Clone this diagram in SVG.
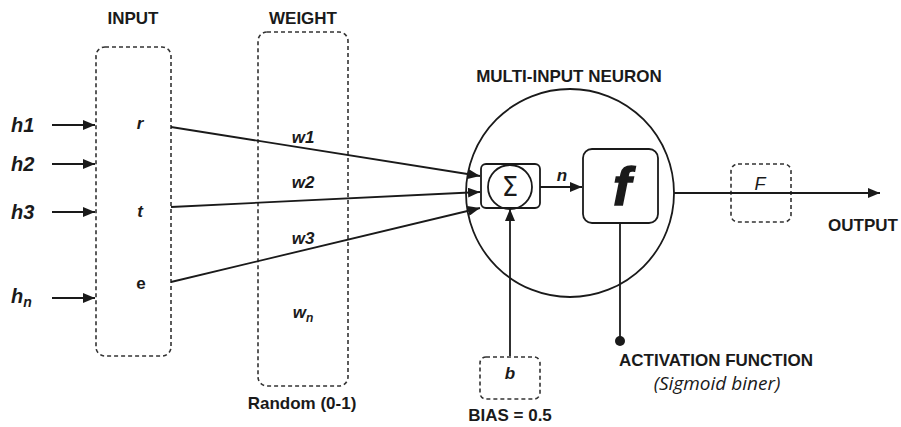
<svg xmlns="http://www.w3.org/2000/svg" width="901" height="427" viewBox="0 0 901 427">
<style>
.dash{fill:none;stroke:#333;stroke-width:1.6;stroke-dasharray:4,3}
.ln{fill:none;stroke:#1a1a1a;stroke-width:1.8}
.solid{fill:#fff;stroke:#1a1a1a;stroke-width:1.8}
.hd{font-family:"Liberation Sans",Arial,sans-serif;font-weight:bold;font-size:17px;fill:#1a1a1a}
.bi{font-family:"Liberation Sans",Arial,sans-serif;font-weight:bold;font-style:italic;font-size:17px;fill:#1a1a1a}
.hl{font-family:"Liberation Sans",Arial,sans-serif;font-weight:bold;font-style:italic;font-size:20px;fill:#1a1a1a}
.it{font-family:"Open Sans","Liberation Sans",sans-serif;font-style:italic;font-size:19px;fill:#1a1a1a}
</style>
<defs>
<marker id="arr" markerUnits="userSpaceOnUse" markerWidth="13" markerHeight="10" refX="12" refY="5" orient="auto">
<path d="M0,0 L12,5 L0,10 z" fill="#1a1a1a"/>
</marker>
</defs>
<rect width="901" height="427" fill="#fff"/>

<g id="input">
<rect class="dash" x="96" y="47" width="75" height="309" rx="9"/>
<text class="hd" x="133" y="24" text-anchor="middle">INPUT</text>
<text class="bi" x="140" y="129" text-anchor="middle">r</text>
<text class="bi" x="140" y="217" text-anchor="middle">t</text>
<text class="hd" x="141" y="289" text-anchor="middle">e</text>
</g>

<g id="weight">
<rect class="dash" x="258" y="32" width="90" height="354" rx="9"/>
<text class="hd" x="303" y="24" text-anchor="middle">WEIGHT</text>
<text class="bi" x="303" y="143" text-anchor="middle">w1</text>
<text class="bi" x="303" y="188" text-anchor="middle">w2</text>
<text class="bi" x="303" y="244" text-anchor="middle">w3</text>
<text class="bi" x="303" y="318" text-anchor="middle">w<tspan font-size="12" dy="4">n</tspan></text>
<text class="hd" x="302" y="409" text-anchor="middle">Random (0-1)</text>
</g>

<g id="sources">
<text class="hl" x="11" y="132">h1</text>
<text class="hl" x="11" y="171">h2</text>
<text class="hl" x="11" y="219">h3</text>
<text class="hl" x="11" y="303">h<tspan font-size="14" dy="4">n</tspan></text>
</g>

<g id="neuron">
<circle class="ln" cx="570" cy="193" r="104"/>
<text class="hd" x="569" y="82" text-anchor="middle">MULTI-INPUT NEURON</text>
</g>

<g id="sum">
<rect class="solid" x="481" y="164" width="59" height="44" rx="5"/>
<circle class="ln" cx="510" cy="187" r="22"/>
<text x="510" y="196" text-anchor="middle" font-family="DejaVu Sans,sans-serif" font-size="26" fill="#1a1a1a">Σ</text>
</g>

<g id="activation">
<rect class="solid" x="583" y="149" width="75" height="74" rx="9"/>
<text x="622" y="205" text-anchor="middle" font-family="Liberation Sans,Arial,sans-serif" font-weight="bold" font-style="italic" font-size="54" fill="#1a1a1a" stroke="#1a1a1a" stroke-width="1.5">f</text>
<circle cx="620" cy="341" r="5" fill="#1a1a1a"/>
<text class="hd" x="716" y="366" text-anchor="middle">ACTIVATION FUNCTION</text>
<text class="it" x="717" y="390" text-anchor="middle">(Sigmoid biner)</text>
</g>

<g id="bias">
<rect class="dash" x="480" y="357" width="60" height="42" rx="6"/>
<text class="bi" x="510" y="379" text-anchor="middle">b</text>
<text class="hd" x="510" y="421" text-anchor="middle">BIAS = 0.5</text>
</g>

<g id="output">
<rect class="dash" x="731" y="164" width="60" height="58" rx="7"/>
<text x="760" y="190" text-anchor="middle" font-family="Liberation Sans,Arial,sans-serif" font-style="italic" font-size="18" fill="#1a1a1a">F</text>
<text class="hd" x="863" y="231" text-anchor="middle">OUTPUT</text>
</g>

<g id="connectors">
<line class="ln" x1="52" y1="125" x2="95" y2="125" marker-end="url(#arr)"/>
<line class="ln" x1="52" y1="164" x2="95" y2="164" marker-end="url(#arr)"/>
<line class="ln" x1="52" y1="212" x2="95" y2="212" marker-end="url(#arr)"/>
<line class="ln" x1="52" y1="298" x2="95" y2="298" marker-end="url(#arr)"/>
<line class="ln" x1="171" y1="127" x2="480" y2="176" marker-end="url(#arr)"/>
<line class="ln" x1="171" y1="207" x2="480" y2="192" marker-end="url(#arr)"/>
<line class="ln" x1="171" y1="282" x2="480" y2="208" marker-end="url(#arr)"/>
<line class="ln" x1="540" y1="187" x2="582" y2="187" marker-end="url(#arr)"/>
<text class="bi" x="562" y="181" text-anchor="middle">n</text>
<line class="ln" x1="510" y1="356" x2="510" y2="209" marker-end="url(#arr)"/>
<line class="ln" x1="620" y1="223" x2="620" y2="340"/>
<line class="ln" x1="674" y1="193" x2="880" y2="193" marker-end="url(#arr)"/>
</g>
</svg>
